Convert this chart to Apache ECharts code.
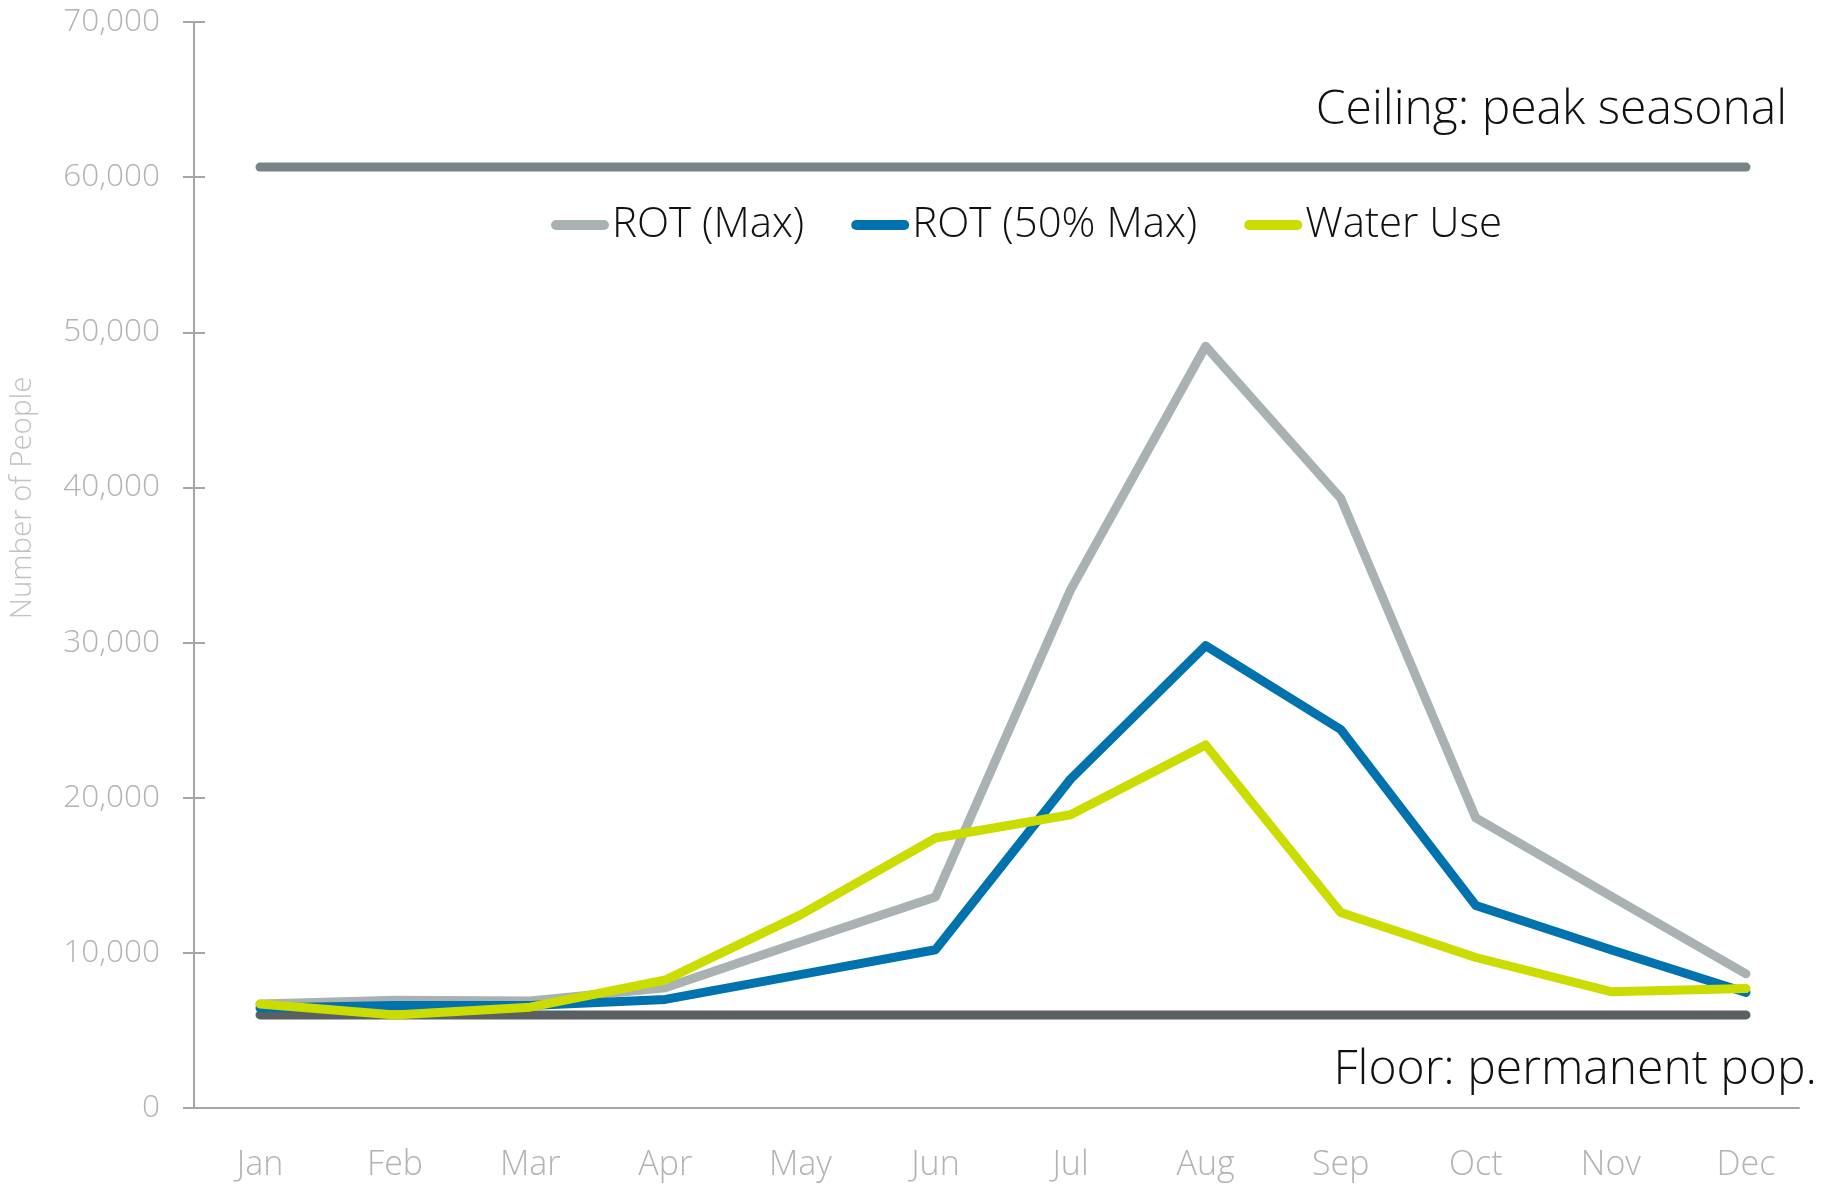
<!DOCTYPE html>
<html>
<head>
<meta charset="utf-8">
<script src="https://cdn.jsdelivr.net/npm/echarts@6/dist/echarts.min.js"></script>
<style>
html, body { margin: 0; padding: 0; width: 100%; height: 100%; background: #fff; }
#chart { width: 1837px; height: 1184px; }
</style>
</head>
<body>
<div id="chart"></div>
<script>
// values
var months = ['Jan', 'Feb', 'Mar', 'Apr', 'May', 'Jun', 'Jul', 'Aug', 'Sep', 'Oct', 'Nov', 'Dec'];
var rotMax = [6700, 6950, 6900, 7750, 10700, 13600, 33400, 49100, 39300, 18700, 13650, 8650];
var rotHalf = [6450, 6600, 6600, 7000, 8600, 10200, 21200, 29800, 24400, 13050, 10200, 7450];
var waterUse = [6700, 6000, 6500, 8250, 12450, 17400, 18900, 23400, 12600, 9700, 7500, 7700];
var ceilingValues = [60650, 60650, 60650, 60650, 60650, 60650, 60650, 60650, 60650, 60650, 60650, 60650];
var floorValues = [6000, 6000, 6000, 6000, 6000, 6000, 6000, 6000, 6000, 6000, 6000, 6000];
var yTicks = { min: 0, max: 70000, step: 10000 };

var FONT = '"Open Sans", "DejaVu Sans", sans-serif';
var axisGrey = '#a6a6a6';

function lineSeries(name, data, color) {
  return {
    name: name,
    type: 'line',
    xAxisIndex: 0,
    yAxisIndex: 0,
    data: data,
    symbol: 'none',
    silent: true,
    lineStyle: { color: color, width: 9, cap: 'round', join: 'round' },
    itemStyle: { color: color }
  };
}

var chart = echarts.init(document.getElementById('chart'));

var option = {
  animation: false,
  backgroundColor: '#fff',
  title: [
    {
      text: 'Ceiling: peak seasonal',
      right: 50, top: 86, padding: 0,
      textStyle: { fontFamily: FONT, fontSize: 48, fontWeight: 300, color: '#111' }
    },
    {
      text: 'Floor: permanent pop.',
      right: 20, top: 1046, padding: 0,
      textStyle: { fontFamily: FONT, fontSize: 48, fontWeight: 300, color: '#111' }
    }
  ],
  legend: {
    data: ['ROT (Max)', 'ROT (50% Max)', 'Water Use'],
    left: 551,
    top: 204,
    padding: 0,
    itemWidth: 58,
    itemHeight: 10,
    itemGap: 47,
    icon: 'path://M5,0 H53 A5,5 0 0 1 53,10 H5 A5,5 0 0 1 5,0 Z',
    textStyle: { fontFamily: FONT, fontSize: 42, fontWeight: 300, color: '#111', padding: [0, 0, 0, -2] }
  },
  grid: [
    // data area: Jan..Dec
    { left: 260, right: 91, top: 22, bottom: 76 },
    // axis frame
    { left: 193, right: 38, top: 22, bottom: 76 }
  ],
  xAxis: [
    {
      gridIndex: 0,
      type: 'category',
      data: months,
      boundaryGap: false,
      axisLine: { show: false },
      axisTick: { show: false },
      splitLine: { show: false },
      axisLabel: { margin: 40, fontFamily: FONT, fontSize: 34, fontWeight: 300, color: '#b3b3b3' }
    },
    {
      gridIndex: 1,
      type: 'value',
      min: 0, max: 1,
      axisLine: { show: true, lineStyle: { color: axisGrey, width: 2 } },
      axisTick: { show: false },
      axisLabel: { show: false },
      splitLine: { show: false }
    }
  ],
  yAxis: [
    {
      gridIndex: 0,
      type: 'value',
      min: yTicks.min, max: yTicks.max, interval: yTicks.step,
      show: false,
      splitLine: { show: false }
    },
    {
      gridIndex: 1,
      type: 'value',
      position: 'left',
      min: yTicks.min, max: yTicks.max, interval: yTicks.step,
      name: 'Number of People',
      nameLocation: 'middle',
      nameGap: 156,
      nameTextStyle: {
        fontFamily: FONT, fontSize: 29.5, fontWeight: 300, color: '#c2c2c2',
        padding: [0, 0, 0, 134]
      },
      axisLine: { show: true, lineStyle: { color: axisGrey, width: 2 } },
      axisTick: { show: true, length: 11, lineStyle: { color: axisGrey, width: 2 } },
      splitLine: { show: false },
      axisLabel: {
        margin: 34,
        fontFamily: FONT, fontSize: 31.5, fontWeight: 300, color: '#b3b3b3',
        formatter: function (v) { return v.toLocaleString('en-US'); }
      }
    },
    {
      gridIndex: 1,
      type: 'value',
      position: 'left',
      min: yTicks.min, max: yTicks.max, interval: yTicks.step,
      axisLine: { show: false },
      axisTick: { show: true, inside: true, length: 11, lineStyle: { color: axisGrey, width: 2 } },
      axisLabel: { show: false },
      splitLine: { show: false }
    }
  ],
  series: [
    lineSeries('Floor', floorValues, '#5a6062'),
    lineSeries('Ceiling', ceilingValues, '#788385'),
    lineSeries('ROT (Max)', rotMax, '#aab1b3'),
    lineSeries('ROT (50% Max)', rotHalf, '#0073ae'),
    lineSeries('Water Use', waterUse, '#cbdc00')
  ]
};

chart.setOption(option);
</script>
</body>
</html>
